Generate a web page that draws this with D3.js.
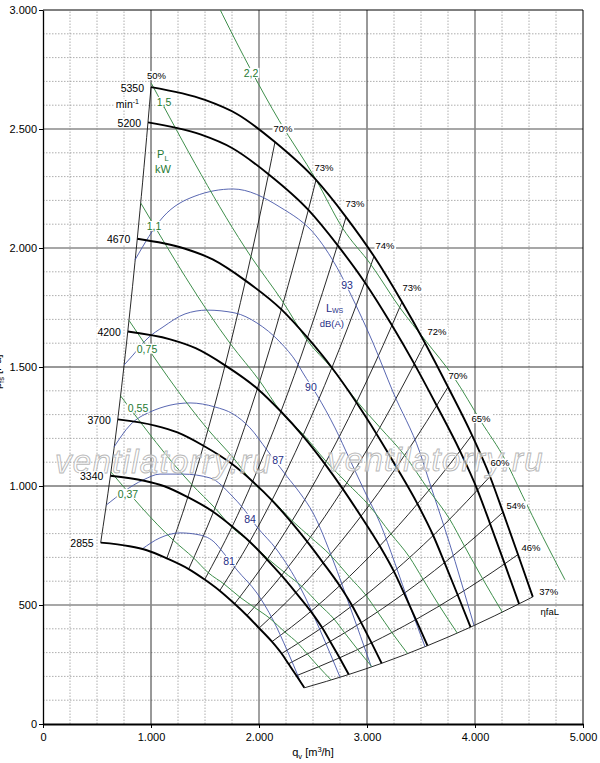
<!DOCTYPE html>
<html>
<head>
<meta charset="UTF-8">
<title>Fan characteristic</title>
<style>
    body {
        margin: 0;
        background: #fff;
    }
    svg {
        display: block;
        font-family: "Liberation Sans", Arial, Helvetica, sans-serif;
    }
</style>
<script src="https://cdnjs.cloudflare.com/ajax/libs/d3/7.9.0/d3.min.js"></script>
</head>
<body>
<div id="chart"></div>
<script>
// ###################
// DATA  q [m3/h], p [Pa]
// ###################

// speed curves, min-1
const speeds = [5350, 5200, 4670, 4200, 3700, 3340, 2855];
const n5350 = [[1000,2676],[1500,2622],[1800,2562],[2148,2445],[2528,2286],[2806,2130],[3065,1965],[3324,1773],[3537,1601],[3750,1416],[3972,1214],[4139,1040],[4259,890],[4398,712],[4535,534]];
const n5200 = [[972,2528],[1458,2477],[1750,2420],[2088,2310],[2457,2160],[2727,2012],[2979,1856],[3231,1675],[3438,1513],[3645,1338],[3861,1147],[4023,983],[4140,841],[4275,673],[4408,505]];
const n4670 = [[873,2039],[1309,1998],[1571,1952],[1875,1863],[2207,1742],[2449,1623],[2675,1497],[2902,1351],[3087,1220],[3273,1079],[3467,925],[3613,792],[3718,678],[3839,543],[3959,407]];
const n4200 = [[785,1649],[1178,1616],[1413,1579],[1686,1507],[1985,1409],[2203,1313],[2406,1211],[2610,1093],[2777,987],[2944,873],[3118,748],[3249,641],[3344,549],[3453,439],[3560,329]];
const n3700 = [[692,1280],[1037,1254],[1245,1225],[1486,1169],[1748,1093],[1941,1019],[2120,940],[2299,848],[2446,766],[2594,677],[2747,581],[2863,497],[2946,426],[3042,341],[3136,255]];
const n3340 = [[624,1043],[937,1022],[1124,999],[1341,953],[1578,891],[1752,830],[1914,766],[2075,691],[2208,624],[2341,552],[2480,473],[2584,405],[2659,347],[2746,278],[2831,208]];
const n2855 = [[534,762],[801,747],[961,730],[1146,696],[1349,651],[1497,607],[1636,560],[1774,505],[1888,456],[2001,403],[2120,346],[2209,296],[2273,253],[2347,203],[2420,152]];
const speedCurves = [n5350, n5200, n4670, n4200, n3700, n3340, n2855];

// system lines (efficiency ηfaL) pass through these points of every speed curve
const sysIndex = [0, 3, 4, 5, 6, 7, 8, 9, 10, 11, 12, 13, 14];
const effLabels = ["50%", "70%", "73%", "73%", "74%", "73%", "72%", "70%", "65%", "60%", "54%", "46%", "37%"];

// shaft power lines P_L kW
const powerLabels = ["2,2", "1,5", "1,1", "0,75", "0,55", "0,37"];
const pw22 = [[1140,3475],[2187,2535],[2528,2287],[2775,2083],[3037,1930],[3303,1750],[3545,1609],[3804,1457],[4060,1268],[4278,1111],[4434,965],[4626,788],[4833,606]];
const pw15 = [[1003,2692],[1925,1964],[2225,1771],[2443,1614],[2673,1495],[2907,1356],[3120,1246],[3348,1129],[3573,982],[3765,861],[3903,747],[4071,610],[4253,470]];
const pw11 = [[905,2189],[1736,1597],[2007,1441],[2203,1312],[2411,1216],[2622,1103],[2814,1013],[3020,918],[3222,799],[3395,700],[3519,608],[3671,496],[3836,382]];
const pw075 = [[796,1696],[1528,1237],[1766,1116],[1939,1017],[2122,942],[2307,854],[2477,785],[2658,711],[2836,619],[2988,542],[3098,471],[3231,384],[3376,296]];
const pw055 = [[718,1379],[1378,1006],[1593,907],[1748,827],[1913,766],[2081,695],[2233,638],[2397,578],[2557,503],[2695,441],[2793,383],[2914,313],[3044,241]];
const pw037 = [[629,1059],[1207,772],[1396,697],[1532,635],[1677,588],[1823,533],[1957,490],[2100,444],[2241,386],[2361,339],[2448,294],[2553,240],[2668,185]];
const powerLines = [pw22, pw15, pw11, pw075, pw055, pw037];
const powerLabelAt = [[1926,2735],[1120,2613],[1028,2092],[963,1576],[880,1328],[787,966]];

// sound power lines Lws dB(A)
const lwLabels = ["93", "90", "87", "84", "81"];
const lw93 = [[852,1950],[1111,2130],[1407,2218],[1759,2248],[2194,2172],[2537,2046],[2750,1895],[2843,1811],[3056,1601],[3241,1395],[3491,1139],[3583,1010],[3769,752],[3954,471],[3991,414]];
const lw90 = [[750,1508],[833,1550],[972,1622],[1111,1668],[1315,1723],[1519,1739],[1778,1727],[1981,1685],[2194,1605],[2352,1517],[2407,1475],[2537,1382],[2704,1244],[2843,1109],[2981,975],[3120,845],[3259,675],[3398,495],[3537,325]];
const lw87 = [[658,1164],[806,1256],[991,1311],[1361,1349],[1593,1332],[1759,1303],[1917,1244],[2074,1151],[2259,1040],[2380,970],[2500,887],[2685,689],[2843,492],[3040,240]];
const lw84 = [[586,920],[926,1025],[1083,1050],[1296,1050],[1546,1034],[1759,954],[1843,912],[1981,828],[2167,731],[2380,576],[2565,395],[2750,197]];
const lw81 = [[917,735],[1083,782],[1269,803],[1454,794],[1593,761],[1657,727],[1796,647],[1981,550],[2130,437],[2259,311],[2385,176]];
const lwLines = [lw93, lw90, lw87, lw84, lw81];
const lwLabelAt = [[2815,1845],[2481,1416],[2176,1109],[1917,861],[1722,685]];

// axes
const xTicks = [0, 1000, 2000, 3000, 4000, 5000];
const xTickLabels = ["0", "1.000", "2.000", "3.000", "4.000", "5.000"];
const yTicks = [0, 500, 1000, 1500, 2000, 2500, 3000];
const yTickLabels = ["0", "500", "1.000", "1.500", "2.000", "2.500", "3.000"];

// ###################
// LAYOUT
// ###################
const W = 600, H = 763;
const margin = {top: 10, right: 17, bottom: 39, left: 43};
const green = "#3f8f4c", greenText = "#1f7a33";
const blue = "#4656a8", blueText = "#1f2e86";
// efficiency label offset from line end [dx, dy] px
const effOffset = [[5.5,-8],[8,-10],[8,-9],[9,-10],[11,-7],[10,-11],[12,-8],[10,-8],[9,-13],[10,-10],[13,-3],[13,-4],[16,-2]];

const svg = d3.select("#chart").append("svg")
    .attr("width", W).attr("height", H);

const x = d3.scaleLinear().domain([0, 5000]).range([margin.left, W - margin.right]);
const y = d3.scaleLinear().domain([0, 3000]).range([H - margin.bottom, margin.top]);

svg.append("clipPath").attr("id", "plotclip")
  .append("rect")
    .attr("x", x(0)).attr("y", y(3000))
    .attr("width", x(5000) - x(0)).attr("height", y(0) - y(3000));

// grid
const grid = svg.append("g");
const minorX = d3.range(250, 5000, 250).filter(d => d % 1000 !== 0);
const minorY = d3.range(100, 3000, 100).filter(d => d % 500 !== 0);
grid.selectAll(".mx").data(minorX).enter().append("line")
    .attr("x1", d => x(d)).attr("x2", d => x(d))
    .attr("y1", y(0)).attr("y2", y(3000))
    .attr("stroke", "#999").attr("stroke-width", 0.8).attr("stroke-dasharray", "1.5,1.5");
grid.selectAll(".my").data(minorY).enter().append("line")
    .attr("x1", x(0)).attr("x2", x(5000))
    .attr("y1", d => y(d)).attr("y2", d => y(d))
    .attr("stroke", "#999").attr("stroke-width", 0.8).attr("stroke-dasharray", "1.5,1.5");

const lightMajor = [2500, 2000, 500, 4000];
grid.selectAll(".Mx").data(xTicks.slice(1, -1)).enter().append("line")
    .attr("x1", d => x(d)).attr("x2", d => x(d))
    .attr("y1", y(0)).attr("y2", y(3000))
    .attr("stroke", d => lightMajor.includes(d) ? "#8a8a8a" : "#333")
    .attr("stroke-width", d => lightMajor.includes(d) ? 1.6 : 1);
grid.selectAll(".My").data(yTicks.slice(1, -1)).enter().append("line")
    .attr("x1", x(0)).attr("x2", x(5000))
    .attr("y1", d => y(d)).attr("y2", d => y(d))
    .attr("stroke", d => lightMajor.includes(d) ? "#8a8a8a" : "#333")
    .attr("stroke-width", d => lightMajor.includes(d) ? 1.6 : 1);

// frame top / right
svg.append("line").attr("x1", x(0)).attr("x2", x(5000)).attr("y1", y(3000)).attr("y2", y(3000))
    .attr("stroke", "#000").attr("stroke-width", 1);
svg.append("line").attr("x1", x(5000)).attr("x2", x(5000)).attr("y1", y(0)).attr("y2", y(3000))
    .attr("stroke", "#000").attr("stroke-width", 1);

// axes
const xAxis = d3.axisBottom(x).tickValues(xTicks).tickFormat((d, i) => xTickLabels[i])
    .tickSize(4).tickSizeOuter(0).tickPadding(5);
const yAxis = d3.axisLeft(y).tickValues(yTicks).tickFormat((d, i) => yTickLabels[i])
    .tickSize(4).tickSizeOuter(0).tickPadding(2);
const gx = svg.append("g").attr("transform", "translate(0," + y(0) + ")").call(xAxis);
const gy = svg.append("g").attr("transform", "translate(" + x(0) + ",0)").call(yAxis);
gx.select(".domain").attr("stroke-width", 2);
gy.select(".domain").attr("stroke-width", 1.3);
[gx, gy].forEach(g => {
    g.selectAll("text").attr("font-size", 11).attr("fill", "#000")
        .attr("font-family", "'Liberation Sans', Arial, sans-serif");
    g.selectAll(".tick line").attr("stroke", "#000");
});

// axis titles
const xt = svg.append("text").attr("x", x(2500)).attr("y", 756)
    .attr("text-anchor", "middle").attr("font-size", 11);
xt.append("tspan").text("q");
xt.append("tspan").attr("font-size", 7.5).attr("dy", 3).text("v");
xt.append("tspan").attr("dy", -3).text(" [m");
xt.append("tspan").attr("font-size", 7.5).attr("dy", -4).text("3");
xt.append("tspan").attr("dy", 4).text("/h]");

// y title sits mostly outside the window, as in the original
const yt = svg.append("text")
    .attr("transform", "translate(1," + y(1480) + ") rotate(-90)")
    .attr("text-anchor", "middle").attr("font-size", 11);
yt.append("tspan").text("p");
yt.append("tspan").attr("font-size", 7.5).attr("dy", 3).text("fs");
yt.append("tspan").attr("dy", -3).text(" [Pa]");

// ###################
// CURVES
// ###################
const plot = svg.append("g").attr("clip-path", "url(#plotclip)");
const line = d3.line().x(d => x(d[0])).y(d => y(d[1])).curve(d3.curveMonotoneX);

// system lines, from lowest speed up to top speed
const sysLines = sysIndex.map(i => speedCurves.slice().reverse().map(c => c[i]));
plot.selectAll(".sys").data(sysLines).enter().append("path")
    .attr("d", line).attr("fill", "none")
    .attr("stroke", "#111").attr("stroke-width", 0.9);

// sound power
plot.selectAll(".lw").data(lwLines).enter().append("path")
    .attr("d", line).attr("fill", "none")
    .attr("stroke", blue).attr("stroke-width", 0.9);

// shaft power
plot.selectAll(".pw").data(powerLines).enter().append("path")
    .attr("d", line).attr("fill", "none")
    .attr("stroke", green).attr("stroke-width", 1);

// speed curves
plot.selectAll(".spd").data(speedCurves).enter().append("path")
    .attr("d", line).attr("fill", "none")
    .attr("stroke", "#000").attr("stroke-width", 1.9);

// watermark
const wm = svg.append("g");
[[55, 473], [327, 471]].forEach(p => {
    wm.append("text").attr("x", p[0]).attr("y", p[1])
        .attr("font-size", 33).attr("font-style", "italic")
        .attr("letter-spacing", 1.3)
        .attr("fill", "#fff").attr("fill-opacity", 0.55)
        .attr("stroke", "#b8b8b8").attr("stroke-width", 0.9)
        .text("ventilatorry.ru");
});

// ###################
// LABELS
// ###################
const labels = svg.append("g");

function boxed(px, py, build, opt) {
    const t = labels.append("text").attr("x", px).attr("y", py)
        .attr("text-anchor", opt.anchor || "middle")
        .attr("font-size", opt.size)
        .attr("fill", opt.color || "#000");
    if (opt.central) t.attr("dy", "0.36em");
    build(t);
    const b = t.node().getBBox();
    labels.insert("rect", () => t.node())
        .attr("x", b.x - 1).attr("y", b.y + 1)
        .attr("width", b.width + 2).attr("height", Math.max(b.height - 2, 0))
        .attr("fill", "#fff");
    return t;
}

// speed labels
speedCurves.forEach((c, i) => {
    boxed(x(c[0][0]) - 7, y(c[0][1]) + 4.5, t => t.text(speeds[i]), {anchor: "end", size: 10.5});
});
boxed(x(n5350[0][0]) - 12, y(n5350[0][1]) + 21, t => {
    t.append("tspan").text("min");
    t.append("tspan").attr("font-size", 7).attr("dy", -4).text("-1");
}, {anchor: "end", size: 10.5});

// efficiency labels
sysIndex.forEach((idx, k) => {
    const e = n5350[idx];
    boxed(x(e[0]) + effOffset[k][0], y(e[1]) + effOffset[k][1], t => t.text(effLabels[k]), {size: 9.5});
});
boxed(x(n5350[14][0]) + 17, y(n5350[14][1]) + 18, t => {
    t.text("ηfaL");
}, {size: 9.5});

// power labels
powerLabels.forEach((s, i) => {
    boxed(x(powerLabelAt[i][0]), y(powerLabelAt[i][1]), t => t.text(s),
        {size: 10.5, color: greenText, central: true});
});
boxed(x(1110), y(2380), t => {
    t.append("tspan").text("P");
    t.append("tspan").attr("font-size", 7.5).attr("dy", 3).text("L");
}, {size: 11, color: greenText});
boxed(x(1110), y(2315), t => t.text("kW"), {size: 11, color: greenText});

// sound labels
lwLabels.forEach((s, i) => {
    boxed(x(lwLabelAt[i][0]), y(lwLabelAt[i][1]), t => t.text(s),
        {size: 10.5, color: blueText, central: true});
});
boxed(x(2700), y(1730), t => {
    t.append("tspan").text("L");
    t.append("tspan").attr("font-size", 7).attr("dy", 1).text("WS");
}, {size: 11, color: blueText});
boxed(x(2675), y(1667), t => t.text("dB(A)"), {size: 9.5, color: blueText});
</script>
</body>
</html>
